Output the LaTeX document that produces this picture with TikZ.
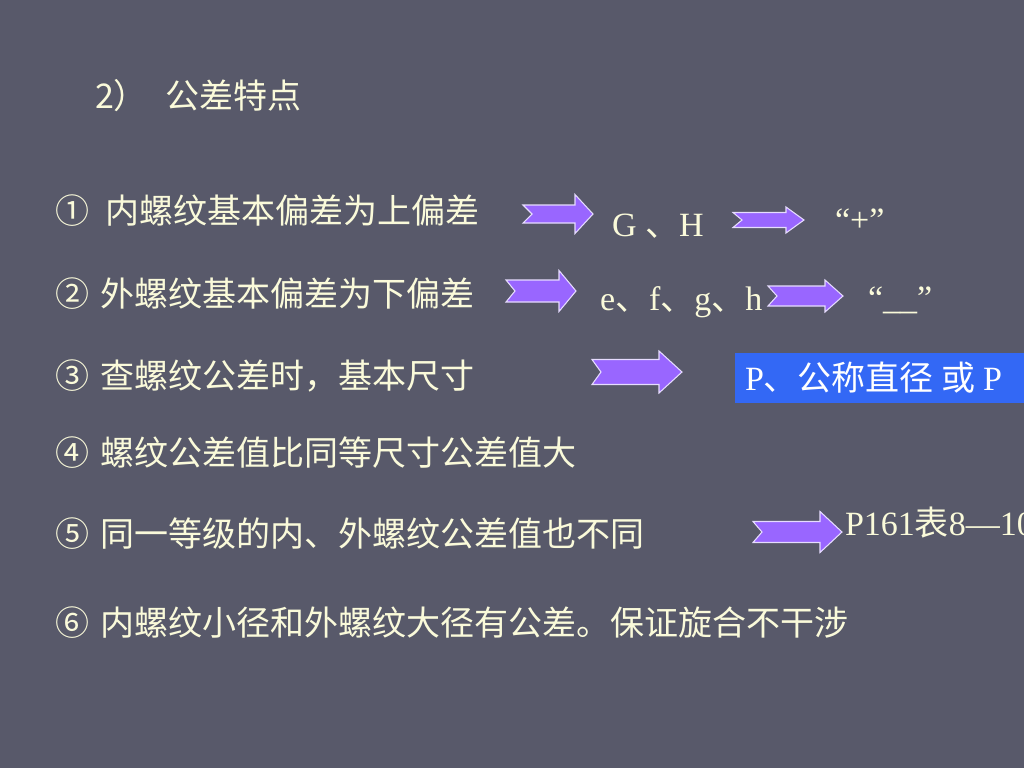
\documentclass[tikz,border=0pt]{standalone}
\usepackage{fontspec}
\setmainfont{Liberation Serif}
\newfontfamily\cjk{Noto Sans CJK SC}
\definecolor{bgcol}{RGB}{88,89,106}
\definecolor{txtcol}{RGB}{250,250,218}
\definecolor{arrfill}{RGB}{153,102,255}
\definecolor{arredge}{RGB}{230,220,255}
\definecolor{boxblue}{RGB}{51,104,245}
\newcommand{\myarrow}[6]{%
  \draw[parrow] (#1,#4-#6) -- (#3,#4-#6) -- (#3,#4-#5) -- (#2,#4) -- (#3,#4+#5) -- (#3,#4+#6) -- (#1,#4+#6) -- (#1+9,#4) -- cycle;}
\begin{document}
\begin{tikzpicture}[x=0.75pt,y=-0.75pt,
  txt/.style={inner sep=0pt,outer sep=0pt,text=txtcol,font=\fontsize{25.5pt}{30pt}\selectfont},
  cjktxt/.style={txt,font=\fontsize{25.5pt}{30pt}\selectfont\cjk},
  parrow/.style={fill=arrfill,draw=arredge,line width=0.8pt,line join=miter}]
\useasboundingbox (0,0) rectangle (1024,768);
\clip (0,0) rectangle (1024,768);
\fill[bgcol] (0,0) rectangle (1024,768);

% title
\node[cjktxt,anchor=west] (tnum) at (95,96) {2）};
\node[cjktxt,anchor=west] (title) at (165,96) {公差特点};

% numbered lines
\node[cjktxt,anchor=west] (n1) at (55,211) {①};
\node[cjktxt,anchor=west] (l1) at (105,211) {内螺纹基本偏差为上偏差};
\node[cjktxt,anchor=west] (n2) at (55,294) {②};
\node[cjktxt,anchor=west] (l2) at (100,294) {外螺纹基本偏差为下偏差};
\node[cjktxt,anchor=west] (n3) at (55,376) {③};
\node[cjktxt,anchor=west] (l3) at (100,376) {查螺纹公差时，基本尺寸};
\node[cjktxt,anchor=west] (n4) at (55,453) {④};
\node[cjktxt,anchor=west] (l4) at (100,453) {螺纹公差值比同等尺寸公差值大};
\node[cjktxt,anchor=west] (n5) at (55,534) {⑤};
\node[cjktxt,anchor=west] (l5) at (100,534) {同一等级的内、外螺纹公差值也不同};
\node[cjktxt,anchor=west] (n6) at (55,623) {⑥};
\node[cjktxt,anchor=west] (l6) at (100,623) {内螺纹小径和外螺纹大径有公差。保证旋合不干涉};

% arrows
\myarrow{523}{593}{575}{214}{19.5}{9}
\myarrow{733}{804}{786}{220}{13}{7.5}
\myarrow{506}{576}{559}{291}{20.5}{11}
\myarrow{768}{843}{825}{296}{16}{10}
\myarrow{592}{682}{659}{372}{21}{12.5}
\myarrow{753}{842}{820}{532}{20.5}{10.5}

% right-hand texts
\node[txt,anchor=base west] (gh) at (612,236) {G {\cjk 、}H};
\node[txt,anchor=base west] (plus) at (835,231) {“+”};
\node[txt,anchor=base west] (efgh) at (600,310) {e{\cjk 、}f{\cjk 、}g{\cjk 、}h};
\node[txt,anchor=base west] (minus) at (868,309) {“\_\_”};

\fill[boxblue] (735,353) rectangle (1030,403);
\node[txt,text=white,anchor=west] (pbox) at (745,378) {P{\cjk 、公称直径 或 }P};

\node[txt,anchor=base west] (ptab) at (845,535) {P161{\cjk 表}8—10};
\end{tikzpicture}
\end{document}
